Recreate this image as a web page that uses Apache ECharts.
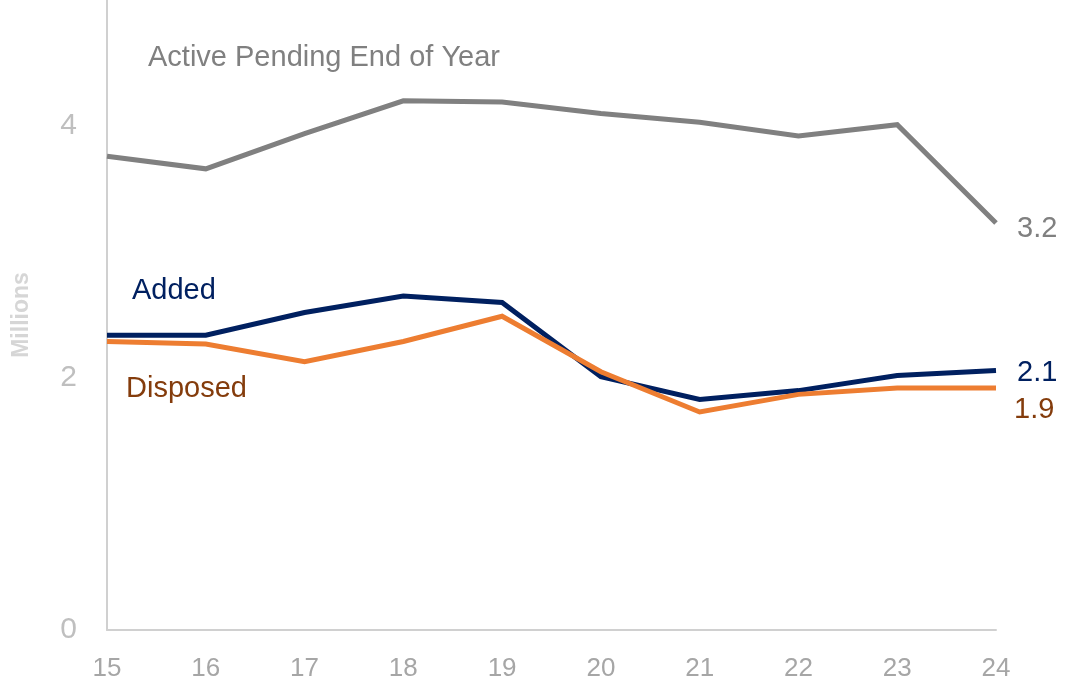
<!DOCTYPE html>
<html>
<head>
<meta charset="utf-8">
<title>Caseload</title>
<script src="https://cdn.jsdelivr.net/npm/echarts@6/dist/echarts.min.js"></script>
<style>
  html, body { margin: 0; padding: 0; background: #ffffff; }
  #chart { width: 1066px; height: 685px; }
</style>
</head>
<body>
<div id="chart"></div>
<script>
// Fiscal years (two-digit)
const years = ['15', '16', '17', '18', '19', '20', '21', '22', '23', '24'];

// Millions of matters
const activePending = [3.76, 3.66, 3.94, 4.20, 4.19, 4.10, 4.03, 3.92, 4.01, 3.23];
const added         = [2.34, 2.34, 2.52, 2.65, 2.60, 2.01, 1.83, 1.90, 2.02, 2.06];
const disposed      = [2.29, 2.27, 2.13, 2.29, 2.49, 2.05, 1.73, 1.87, 1.92, 1.92];

const yTickLabels = [0, 2, 4];

const FONT = '"Liberation Sans", "Noto Sans", sans-serif';
const GRAY = '#808080';
const NAVY = '#002060';
const ORANGE = '#ed7d31';
const BROWN = '#843c0c';

const chart = echarts.init(document.getElementById('chart'));

function lineSeries(name, data, color, labelColor, labelOffset) {
  return {
    name: name,
    type: 'line',
    data: data,
    symbol: 'none',
    smooth: false,
    lineStyle: { color: color, width: 5, cap: 'butt', join: 'miter' },
    itemStyle: { color: color },
    endLabel: {
      show: true,
      formatter: p => Number(p.value).toFixed(1),
      color: labelColor,
      fontFamily: FONT,
      fontSize: 29,
      distance: 21,
      offset: labelOffset
    },
    emphasis: { disabled: true },
    animation: false
  };
}

chart.setOption({
  animation: false,
  grid: { left: 107, right: 70, top: 0, bottom: 55, containLabel: false },
  xAxis: {
    type: 'category',
    data: years,
    boundaryGap: false,
    axisLine: { show: true, lineStyle: { color: '#d0d0d0', width: 2 } },
    axisTick: { show: false },
    axisLabel: { color: '#a6a6a6', fontFamily: FONT, fontSize: 26, margin: 26 },
    splitLine: { show: false }
  },
  yAxis: {
    type: 'value',
    min: 0,
    max: 5,
    interval: 1,
    name: 'Millions',
    nameLocation: 'middle',
    nameGap: 74,
    nameRotate: 90,
    nameTextStyle: { color: '#d6d6d6', fontFamily: FONT, fontSize: 23, fontWeight: 'bold' },
    axisLine: { show: true, lineStyle: { color: '#d0d0d0', width: 2 } },
    axisTick: { show: false },
    axisLabel: {
      color: '#bfbfbf',
      fontFamily: FONT,
      fontSize: 30,
      margin: 30,
      padding: [4, 0, 0, 0],
      formatter: v => (yTickLabels.indexOf(v) >= 0 ? String(v) : '')
    },
    splitLine: { show: false }
  },
  graphic: [
    { type: 'text', left: 148, top: 43,
      style: { text: 'Active Pending End of Year', fill: GRAY, font: '29px ' + FONT } },
    { type: 'text', left: 132, top: 276,
      style: { text: 'Added', fill: NAVY, font: '29px ' + FONT } },
    { type: 'text', left: 126, top: 374,
      style: { text: 'Disposed', fill: BROWN, font: '29px ' + FONT } }
  ],
  series: [
    lineSeries('Active Pending End of Year', activePending, GRAY, GRAY, [0, 6]),
    lineSeries('Added', added, NAVY, NAVY, [0, 3]),
    lineSeries('Disposed', disposed, ORANGE, BROWN, [-3, 22])
  ]
});
</script>
</body>
</html>
